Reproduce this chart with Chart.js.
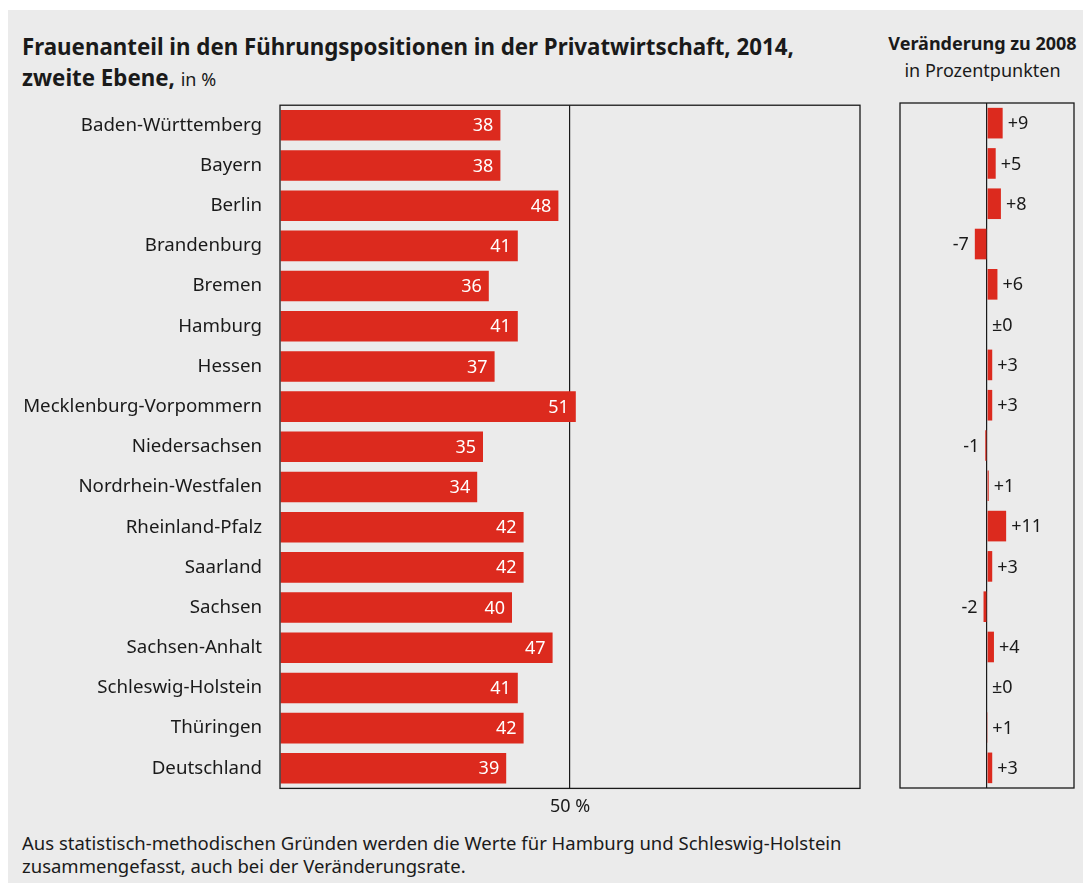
<!DOCTYPE html>
<html>
<head>
<meta charset="utf-8">
<script src="https://cdn.jsdelivr.net/npm/chart.js@4"></script>
<style>
  body { margin: 0; background: #fff; font-family: "Noto Sans", sans-serif; color: #1a1a1a; }
  #box { position: absolute; left: 8px; top: 10px; width: 1075px; height: 873px; background: #ebebeb; }
  .t { position: absolute; white-space: nowrap; }
  #title { left: 14px; top: 21px; font-size: 22.3px; font-weight: bold; line-height: 31px; }
  #title span { font-weight: normal; font-size: 18px; }
  #rtitle { left: 872px; top: 20px; width: 205px; text-align: center; font-size: 18px; line-height: 27px; }
  #note { left: 14px; top: 821px; font-size: 18.5px; line-height: 23px; }
  #c1 { position: absolute; left: 0; top: 66px; }
  #c2 { position: absolute; left: 872px; top: 83px; }
</style>
</head>
<body>
<div id="box">
  <div class="t" id="title">Frauenanteil in den Führungspositionen in der Privatwirtschaft, 2014,<br>zweite Ebene, <span>in %</span></div>
  <div class="t" id="rtitle"><b>Veränderung zu 2008</b><br>in Prozentpunkten</div>
  <canvas id="c1" width="870" height="750"></canvas>
  <canvas id="c2" width="203" height="742"></canvas>
  <div class="t" id="note">Aus statistisch-methodischen Gründen werden die Werte für Hamburg und Schleswig-Holstein<br>zusammengefasst, auch bei der Veränderungsrate.</div>
</div>
<script>
// Bundesländer
const laender = [
  "Baden-Württemberg", "Bayern", "Berlin", "Brandenburg", "Bremen", "Hamburg",
  "Hessen", "Mecklenburg-Vorpommern", "Niedersachsen", "Nordrhein-Westfalen",
  "Rheinland-Pfalz", "Saarland", "Sachsen", "Sachsen-Anhalt", "Schleswig-Holstein",
  "Thüringen", "Deutschland"
];
// Frauenanteil 2014 in %
const anteil2014 = [38, 38, 48, 41, 36, 41, 37, 51, 35, 34, 42, 42, 40, 47, 41, 42, 39];
// Veränderung zu 2008 in Prozentpunkten
const veraenderung = [9, 5, 8, -7, 6, 0, 3, 3, -1, 1, 11, 3, -2, 4, 0, 0.2, 3];
const veraenderungText = ["+9", "+5", "+8", "-7", "+6", "±0", "+3", "+3", "-1", "+1", "+11", "+3", "-2", "+4", "±0", "+1", "+3"];

const rot = "#dc2a1e";
const schrift = "'Noto Sans', sans-serif";

// Rahmen um die Zeichenfläche
const rahmen = {
  id: "rahmen",
  afterDraw(chart) {
    const a = chart.chartArea, ctx = chart.ctx;
    ctx.save();
    ctx.strokeStyle = "#1a1a1a";
    ctx.lineWidth = 1.3;
    ctx.strokeRect(a.left, a.top, a.right - a.left, a.bottom - a.top);
    ctx.restore();
  }
};

// Werte in den Balken
const werteInnen = {
  id: "werteInnen",
  afterDatasetsDraw(chart) {
    const ctx = chart.ctx;
    ctx.save();
    ctx.font = "18px " + schrift;
    ctx.fillStyle = "#fff";
    ctx.textAlign = "right";
    ctx.textBaseline = "middle";
    chart.getDatasetMeta(0).data.forEach((bar, i) => {
      ctx.fillText(anteil2014[i], bar.x - 7, bar.y + 1);
    });
    ctx.restore();
  }
};

// Werte neben den Balken
const werteAussen = {
  id: "werteAussen",
  afterDatasetsDraw(chart) {
    const ctx = chart.ctx;
    const null_x = chart.scales.x.getPixelForValue(0);
    ctx.save();
    ctx.font = "18px " + schrift;
    ctx.fillStyle = "#1a1a1a";
    ctx.textBaseline = "middle";
    chart.getDatasetMeta(0).data.forEach((bar, i) => {
      if (veraenderung[i] < 0) {
        ctx.textAlign = "right";
        ctx.fillText(veraenderungText[i], bar.x - 6, bar.y + 1);
      } else {
        ctx.textAlign = "left";
        ctx.fillText(veraenderungText[i], Math.max(bar.x, null_x) + 5, bar.y + 1);
      }
    });
    ctx.restore();
  }
};

new Chart(document.getElementById("c1").getContext("2d"), {
  type: "bar",
  data: {
    labels: laender,
    datasets: [{
      data: anteil2014,
      backgroundColor: rot,
      barPercentage: 0.76,
      categoryPercentage: 1
    }]
  },
  options: {
    indexAxis: "y",
    responsive: false,
    animation: false,
    layout: { padding: { top: 10, right: 18, bottom: 0, left: 0 } },
    plugins: { legend: { display: false }, tooltip: { enabled: false } },
    scales: {
      x: {
        min: 0, max: 100,
        ticks: {
          stepSize: 50,
          color: "#1a1a1a",
          font: { family: schrift, size: 18 },
          padding: 8,
          callback: v => v === 50 ? "50 %" : ""
        },
        grid: {
          color: c => c.tick && c.tick.value === 50 ? "#1a1a1a" : "transparent",
          lineWidth: 1.2,
          drawTicks: false
        },
        border: { display: false }
      },
      y: {
        afterFit: s => { s.width = 272; },
        ticks: {
          color: "#1a1a1a",
          font: { family: schrift, size: 18.7 },
          padding: 18
        },
        grid: { display: false, drawTicks: false },
        border: { display: false }
      }
    }
  },
  plugins: [rahmen, werteInnen]
});

new Chart(document.getElementById("c2").getContext("2d"), {
  type: "bar",
  data: {
    labels: laender,
    datasets: [{
      data: veraenderung,
      backgroundColor: rot,
      barPercentage: 0.76,
      categoryPercentage: 1
    }]
  },
  options: {
    indexAxis: "y",
    responsive: false,
    animation: false,
    layout: { padding: { top: 10, right: 9, bottom: 47, left: 20 } },
    plugins: { legend: { display: false }, tooltip: { enabled: false } },
    scales: {
      x: {
        min: -50, max: 50,
        ticks: { display: false, stepSize: 50 },
        grid: {
          color: c => c.tick && c.tick.value === 0 ? "#1a1a1a" : "transparent",
          lineWidth: 1.2,
          drawTicks: false
        },
        border: { display: false }
      },
      y: {
        ticks: { display: false },
        grid: { display: false, drawTicks: false },
        border: { display: false }
      }
    }
  },
  plugins: [rahmen, werteAussen]
});
</script>
</body>
</html>
